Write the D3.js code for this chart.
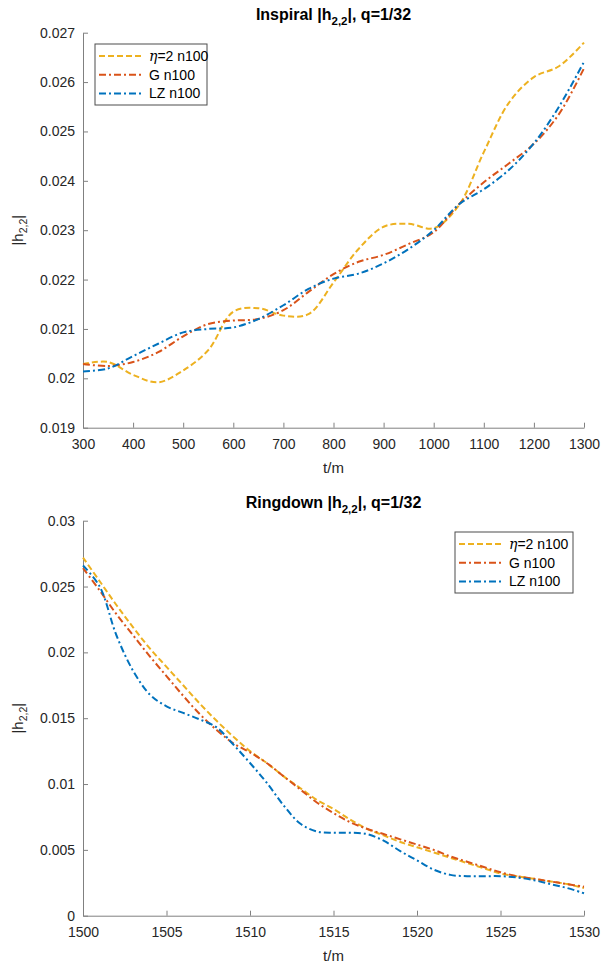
<!DOCTYPE html>
<html>
<head>
<meta charset="utf-8">
<script src="https://cdn.jsdelivr.net/npm/d3@7"></script>
<style>
  body { margin: 0; background: #fff; }
  svg { display: block; font-family: "Liberation Sans", Arial, Helvetica, sans-serif; }
</style>
</head>
<body>
<svg id="chart" width="602" height="969"></svg>
<script>
// ---------- DATA ----------
const seriesNames = ["η=2 n100", "G n100", "LZ n100"];

// Inspiral panel
const inspiralT = [300,350,400,450,500,550,600,650,700,750,800,850,900,950,1000,1050,1100,1150,1200,1250,1300];
const inspiralEta = [0.02029,0.02033,0.02007,0.01992,0.02016,0.02057,0.02135,0.02142,0.02127,0.02130,0.02194,0.02262,0.02307,0.02313,0.02304,0.02350,0.02458,0.02558,0.02610,0.02632,0.02680];
const inspiralG   = [0.02029,0.02025,0.02033,0.02053,0.02085,0.02110,0.02117,0.02120,0.02138,0.02175,0.02211,0.02236,0.02250,0.02272,0.02296,0.02352,0.02397,0.02435,0.02475,0.02535,0.02628];
const inspiralLZ  = [0.02014,0.02020,0.02045,0.02070,0.02093,0.02100,0.02103,0.02120,0.02148,0.02181,0.02202,0.02212,0.02233,0.02262,0.02300,0.02352,0.02383,0.02422,0.02476,0.02550,0.02641];
const inspiralXTicks = [300,400,500,600,700,800,900,1000,1100,1200,1300];
const inspiralYTicks = [0.019,0.020,0.021,0.022,0.023,0.024,0.025,0.026,0.027];
const inspiralYTickLabels = ["0.019","0.02","0.021","0.022","0.023","0.024","0.025","0.026","0.027"];

// Ringdown panel
const ringT = [1500,1501,1502,1503,1504,1505,1506,1507,1508,1509,1510,1511,1512,1513,1514,1515,1516,1517,1518,1519,1520,1521,1522,1523,1524,1525,1526,1527,1528,1529,1530];
const ringEta = [0.0272,0.0254,0.0236,0.0219,0.0203,0.0189,0.0175,0.0161,0.0148,0.0136,0.0125,0.0116,0.0106,0.0097,0.0088,0.0081,0.0073,0.0066,0.0061,0.0056,0.0052,0.0048,0.0044,0.0040,0.0036,0.0032,0.0030,0.0028,0.0026,0.0024,0.0021];
const ringG   = [0.0264,0.0247,0.0229,0.0213,0.0197,0.0182,0.0167,0.0153,0.0141,0.0131,0.0124,0.0116,0.0106,0.0096,0.0086,0.0078,0.0071,0.0066,0.0062,0.0058,0.0054,0.0050,0.0045,0.0041,0.0037,0.0033,0.0030,0.0028,0.0026,0.0024,0.0022];
const ringLZ  = [0.0266,0.0250,0.0213,0.0186,0.0168,0.0159,0.0154,0.0149,0.0143,0.0130,0.0116,0.0101,0.0084,0.0070,0.0064,0.0063,0.0063,0.0062,0.0057,0.0049,0.0042,0.0035,0.0031,0.0030,0.0030,0.0030,0.0029,0.0027,0.0024,0.0021,0.0017];
const ringXTicks = [1500,1505,1510,1515,1520,1525,1530];
const ringYTicks = [0,0.005,0.01,0.015,0.02,0.025,0.03];
const ringYTickLabels = ["0","0.005","0.01","0.015","0.02","0.025","0.03"];

// ---------- STYLE ----------
const colors = ["#EDB120", "#D95319", "#0072BD"];
const dashes = ["6,3", "7,3,2,3", "7,3,2,3"];
const svg = d3.select("#chart");

function panel(opts) {
  const {left, right, top, bottom, xDomain, yDomain, t, series, xTicks, yTicks, yTickLabels, title, legend} = opts;
  const x = d3.scaleLinear().domain(xDomain).range([left, right]);
  const y = d3.scaleLinear().domain(yDomain).range([bottom, top]);
  const g = svg.append("g");

  // axes
  const xAxis = d3.axisBottom(x).tickValues(xTicks).tickSizeInner(-5).tickSizeOuter(0).tickPadding(11).tickFormat(d3.format("d"));
  const yAxis = d3.axisLeft(y).tickValues(yTicks).tickSizeInner(-5).tickSizeOuter(0).tickPadding(8).tickFormat((d, i) => yTickLabels[i]);
  const gx = g.append("g").attr("transform", `translate(0,${bottom})`).call(xAxis);
  const gy = g.append("g").attr("transform", `translate(${left},0)`).call(yAxis);
  [gx, gy].forEach(a => {
    a.select(".domain").attr("stroke", "#808080").attr("stroke-width", 1);
    a.selectAll(".tick line").attr("stroke", "#808080").attr("stroke-width", 1);
    a.selectAll(".tick text").attr("fill", "#262626").style("font-size", "14px");
  });

  // lines
  const line = d3.line().x(d => x(d[0])).y(d => y(d[1])).curve(d3.curveCatmullRom.alpha(0.5));
  series.forEach((vals, i) => {
    g.append("path")
      .datum(t.map((tv, k) => [tv, vals[k]]))
      .attr("fill", "none")
      .attr("stroke", colors[i])
      .attr("stroke-width", 2)
      .attr("stroke-dasharray", dashes[i])
      .attr("d", line);
  });

  // title
  const tt = g.append("text").attr("x", (left + right) / 2).attr("y", top - 13)
    .attr("text-anchor", "middle").style("font-size", "16px").style("font-weight", "bold").attr("fill", "#000");
  tt.append("tspan").text(title + " |h");
  tt.append("tspan").attr("dy", 5).style("font-size", "11.5px").text("2,2");
  tt.append("tspan").attr("dy", -5).text("|, q=1/32");

  // x label
  g.append("text").attr("x", (left + right) / 2).attr("y", bottom + 45)
    .attr("text-anchor", "middle").style("font-size", "15px").attr("fill", "#262626").text("t/m");

  // y label
  const yl = g.append("text").attr("transform", `translate(23,${(top + bottom) / 2}) rotate(-90)`)
    .attr("text-anchor", "middle").style("font-size", "15px").attr("fill", "#262626");
  yl.append("tspan").text("|h");
  yl.append("tspan").attr("dy", 4).style("font-size", "10.5px").text("2,2");
  yl.append("tspan").attr("dy", -4).text("|");

  // legend
  const L = legend;
  g.append("rect").attr("x", L.x).attr("y", L.y).attr("width", L.w).attr("height", L.h)
    .attr("fill", "#fff").attr("stroke", "#4d4d4d").attr("stroke-width", 1);
  seriesNames.forEach((name, i) => {
    const cy = L.y + 12 + i * 18.7;
    g.append("line").attr("x1", L.x + 4).attr("x2", L.x + 49).attr("y1", cy).attr("y2", cy)
      .attr("stroke", colors[i]).attr("stroke-width", 2).attr("stroke-dasharray", dashes[i]);
    const tx = g.append("text").attr("x", L.x + 54).attr("y", cy + 5).style("font-size", "14px").attr("fill", "#000");
    if (name.startsWith("η")) {
      tx.append("tspan").style("font-style", "italic").attr("font-family", "'DejaVu Serif', serif").text("η");
      tx.append("tspan").text(name.slice(1));
    } else {
      tx.text(name);
    }
  });
}

panel({
  left: 83, right: 584, top: 32.7, bottom: 427.7,
  xDomain: [300, 1300], yDomain: [0.019, 0.027],
  t: inspiralT, series: [inspiralEta, inspiralG, inspiralLZ],
  xTicks: inspiralXTicks, yTicks: inspiralYTicks, yTickLabels: inspiralYTickLabels,
  title: "Inspiral",
  legend: {x: 95, y: 44, w: 112, h: 61}
});

panel({
  left: 83, right: 584, top: 520.7, bottom: 915.7,
  xDomain: [1500, 1530], yDomain: [0, 0.03],
  t: ringT, series: [ringEta, ringG, ringLZ],
  xTicks: ringXTicks, yTicks: ringYTicks, yTickLabels: ringYTickLabels,
  title: "Ringdown",
  legend: {x: 455, y: 532, w: 118, h: 61}
});
</script>
</body>
</html>
